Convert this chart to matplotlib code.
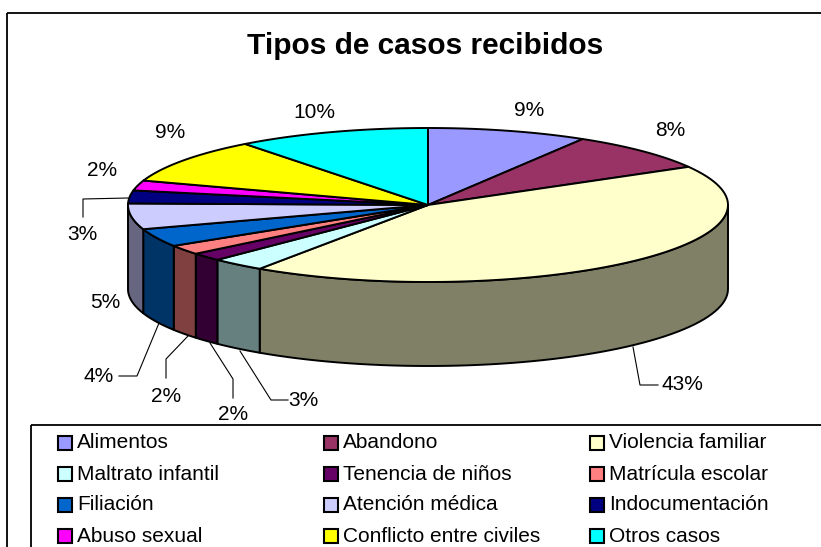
import numpy as np
import matplotlib
matplotlib.use("Agg")
import matplotlib.pyplot as plt
from matplotlib.patches import Polygon, Rectangle

plt.rcParams['font.family'] = ['Liberation Sans', 'DejaVu Sans']

categories = ["Alimentos", "Abandono", "Violencia familiar", "Maltrato infantil",
              "Tenencia de niños", "Matrícula escolar", "Filiación", "Atención médica",
              "Indocumentación", "Abuso sexual", "Conflicto entre civiles", "Otros casos"]
values = [8.6, 8.1, 42.6, 2.9, 1.7, 2.0, 3.8, 5.4, 2.7, 2.1, 9.4, 10.4]
colors = ["#9999FF", "#993366", "#FFFFCC", "#CCFFFF", "#660066", "#FF8080",
          "#0066CC", "#CCCCFF", "#000080", "#FF00FF", "#FFFF00", "#00FFFF"]
title = "Tipos de casos recibidos"

# layout (pixel coordinates of the 821x547 canvas)
CX, CY = 428, 205        # centre of the top ellipse
A, B = 300, 77           # semi axes
DEPTH = 84               # height of the cylinder side
LW = 1.4

# label centres, and leader line points
label_pos = [(529, 110), (670, 131), (682, 385), (303, 400), (233, 414), (166, 396),
             (99, 376), (105, 303), (82, 234), (102, 171), (170, 133), (314, 112)]
leaders = {
    2: [(633, 347), (640, 385), (658, 385)],
    3: [(240, 351), (271, 400), (288, 400)],
    4: [(210, 343), (233, 379), (233, 398)],
    5: [(188, 336), (166, 359), (166, 378)],
    6: [(159, 323), (137, 376), (119, 376)],
    8: [(128, 198), (83, 199), (83, 217)],
}


def ell(theta):
    t = np.radians(theta)
    return CX + A * np.sin(t), CY - B * np.cos(t)


def darker(c):
    r, g, b = matplotlib.colors.to_rgb(c)
    return (r * 0.5, g * 0.5, b * 0.5)


fig = plt.figure(figsize=(8.21, 5.47), dpi=100)
ax = fig.add_axes([0, 0, 1, 1])
ax.set_xlim(0, 821)
ax.set_ylim(547, 0)
ax.axis('off')

# chart frame
ax.add_patch(Rectangle((7, 13), 900, 700, fill=False, ec='black', lw=1.3))

tot = float(sum(values))
starts = np.cumsum([0] + values[:-1]) / tot * 360
ends = np.cumsum(values) / tot * 360

# side walls (front half only)
for i in range(len(values)):
    t1, t2 = max(starts[i], 90), min(ends[i], 270)
    if t1 >= t2:
        continue
    th = np.linspace(t1, t2, 60)
    x, y = ell(th)
    pts = np.column_stack([np.r_[x, x[::-1]], np.r_[y, (y + DEPTH)[::-1]]])
    ax.add_patch(Polygon(pts, closed=True, fc=darker(colors[i]), ec='black',
                         lw=LW, joinstyle='round'))

# top of the pie
for i in range(len(values)):
    th = np.linspace(starts[i], ends[i], 80)
    x, y = ell(th)
    pts = np.column_stack([np.r_[CX, x], np.r_[CY, y]])
    ax.add_patch(Polygon(pts, closed=True, fc=colors[i], ec='black',
                         lw=LW, joinstyle='round'))

# percentage labels
for i, v in enumerate(values):
    lx, ly = label_pos[i]
    ax.text(lx, ly, "%d%%" % round(v / tot * 100), fontsize=15,
            ha='center', va='center')
    if i in leaders:
        p = np.array(leaders[i])
        ax.plot(p[:, 0], p[:, 1], color='black', lw=0.8)

ax.text(425, 46, title, fontsize=21.5, fontweight='bold', ha='center', va='center')

# legend box
ax.add_patch(Rectangle((31, 425), 900, 300, fill=False, ec='black', lw=1.3))
for i, name in enumerate(categories):
    col, row = i % 3, i // 3
    x0 = 58 + col * 266
    y0 = 443 + row * 31
    ax.add_patch(Rectangle((x0, y0 - 7), 14, 14, fc=colors[i], ec='black', lw=1.5))
    ax.text(x0 + 19, y0, name, fontsize=15, ha='left', va='center')

fig.savefig("out.png", dpi=100)
